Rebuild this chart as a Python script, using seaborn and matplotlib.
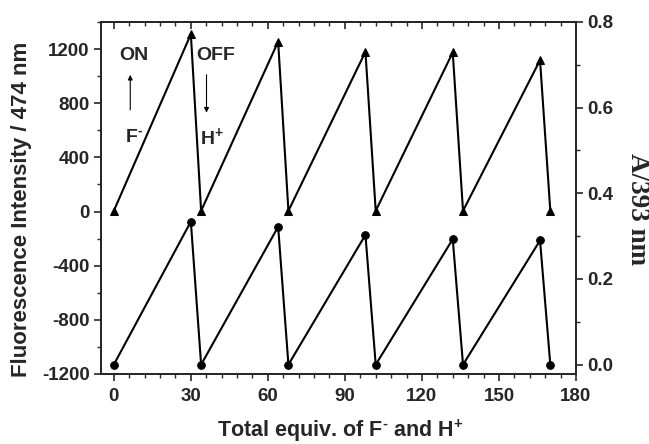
import matplotlib
matplotlib.use("Agg")
import matplotlib.pyplot as plt
import seaborn as sns
import pandas as pd
from matplotlib.ticker import MultipleLocator

# ------------------------------------------------------------
# data
# ------------------------------------------------------------

equiv = [0, 30, 34, 64, 68, 98, 102, 132, 136, 166, 170]

fluor = [5, 1310, 5, 1255, 5, 1180, 5, 1175, 5, 1118, 5]          # left axis, 474 nm
absorb = [0.0, 0.334, 0.0, 0.322, 0.0, 0.303, 0.0, 0.293, 0.0, 0.290, 0.0]  # right axis, 393 nm

df = pd.DataFrame({"equiv": equiv, "fluor": fluor, "absorb": absorb})

# ------------------------------------------------------------
# style
# ------------------------------------------------------------

sns.set_style("ticks")
plt.rcParams["font.family"] = ["Liberation Sans", "DejaVu Sans"]
plt.rcParams["font.weight"] = "bold"
plt.rcParams["axes.linewidth"] = 1.3
plt.rcParams["axes.unicode_minus"] = False
plt.rcParams["mathtext.fontset"] = "custom"
plt.rcParams["mathtext.rm"] = "Liberation Sans:bold"
plt.rcParams["mathtext.bf"] = "Liberation Sans:bold"
plt.rcParams["mathtext.it"] = "Liberation Sans:bold"

fig = plt.figure(figsize=(6.49, 4.44), dpi=100)
ax = fig.add_axes([0.1556, 0.1577, 0.7319, 0.7928])
ax2 = ax.twinx()

sns.lineplot(data=df, x="equiv", y="fluor", ax=ax, color="black", lw=1.5,
             marker="^", markersize=6, markeredgecolor="black", sort=False)
sns.lineplot(data=df, x="equiv", y="absorb", ax=ax2, color="black", lw=1.5,
             marker="o", markersize=5.5, markeredgecolor="black", sort=False)

# ------------------------------------------------------------
# axes
# ------------------------------------------------------------

ax.set_xlim(-5, 180)
ax.set_ylim(-1200, 1400)
ax2.set_ylim(-0.0218, 0.8)

ax.xaxis.set_major_locator(MultipleLocator(30))
ax.xaxis.set_minor_locator(MultipleLocator(6))
ax.yaxis.set_major_locator(MultipleLocator(400))
ax.yaxis.set_minor_locator(MultipleLocator(200))
ax2.set_yticks([0.0, 0.2, 0.4, 0.6, 0.8])
ax2.set_yticklabels(["0.0", "0.2", "0.4", "0.6", "0.8"])
ax2.yaxis.set_minor_locator(MultipleLocator(0.1))

for a in (ax, ax2):
    a.tick_params(which="major", length=5, width=1.2, labelsize=13.5)
    a.tick_params(which="minor", length=3, width=1.0)
    for lab in a.get_xticklabels() + a.get_yticklabels():
        lab.set_fontweight("bold")

ax.tick_params(axis="x", which="both", direction="out", top=False, pad=5)
ax.tick_params(axis="y", which="both", direction="out", right=False, pad=3)
ax2.tick_params(axis="y", which="both", direction="out", pad=3)

# top ticks point inward
secx = ax.secondary_xaxis("top")
secx.xaxis.set_major_locator(MultipleLocator(30))
secx.xaxis.set_minor_locator(MultipleLocator(6))
secx.tick_params(which="both", direction="in", labeltop=False)
secx.tick_params(which="major", length=5, width=1.2)
secx.tick_params(which="minor", length=3, width=1.0)

ax.set_xlabel("Total equiv. of F$^{\\text{-}}$ and H$^{\\text{+}}$", fontsize=15.5,
              fontweight="bold")
ax.xaxis.label.set_va("baseline")
ax.xaxis.set_label_coords(0.503, -0.178)

ax.set_ylabel("Fluorescence Intensity / 474 nm", fontsize=16, fontweight="bold")
ax.yaxis.label.set_va("center")
ax.yaxis.set_label_coords(-0.168, 0.469)

ax2.set_ylabel("A/393 nm", fontsize=19.5, fontweight="bold", rotation=270,
               family="Liberation Serif")
ax2.yaxis.label.set_va("center")
ax2.yaxis.set_label_coords(1.1305, 0.469)

# ------------------------------------------------------------
# annotations
# ------------------------------------------------------------

ax.text(2, 1150, "ON", fontsize=14, fontweight="bold", va="center", ha="left")
ax.annotate("", xy=(6.4, 1030), xytext=(6.4, 730),
            arrowprops=dict(arrowstyle="-|>", color="black", lw=0.8,
                            mutation_scale=7))
ax.text(4.5, 550, "F$^{\\text{-}}$", fontsize=14, fontweight="bold", va="center",
        ha="left")

ax.text(32, 1150, "OFF", fontsize=14, fontweight="bold", va="center", ha="left")
ax.annotate("", xy=(36.1, 710), xytext=(36.1, 1030),
            arrowprops=dict(arrowstyle="-|>", color="black", lw=0.8,
                            mutation_scale=7))
ax.text(33.5, 550, "H$^{\\text{+}}$", fontsize=14, fontweight="bold", va="center",
        ha="left")

fig.savefig("out.png", dpi=100)
